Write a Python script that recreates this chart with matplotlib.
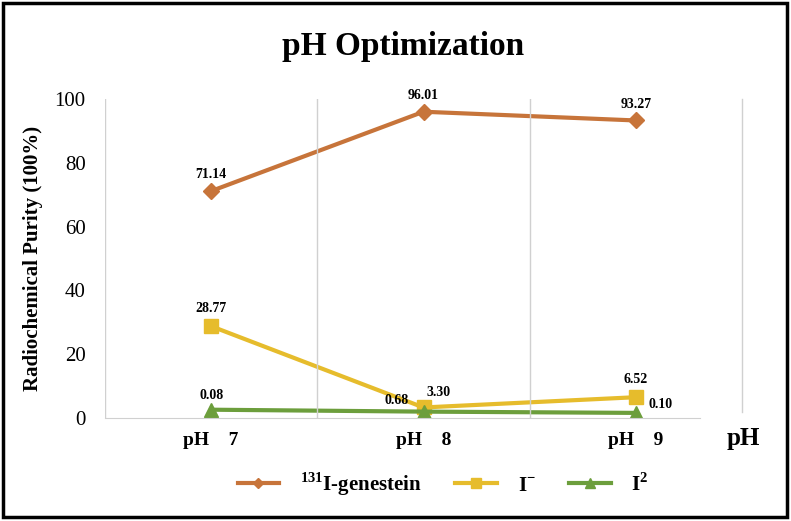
import matplotlib.pyplot as plt
from matplotlib.patches import Rectangle

# data
categories = ['pH    7', 'pH    8', 'pH    9']
genistein = [71.14, 96.01, 93.27]
iodide = [28.77, 3.30, 6.52]
iodine = [2.6, 2.0, 1.6]          # plotted positions
iodine_labels = ['0.08', '0.68', '0.10']

plt.rcParams['font.family'] = ['Liberation Serif', 'DejaVu Serif']
plt.rcParams['mathtext.fontset'] = 'custom'
plt.rcParams['mathtext.rm'] = 'Liberation Serif:bold'
plt.rcParams['mathtext.bf'] = 'Liberation Serif:bold'

c_org = '#C7743A'
c_yel = '#E6BC2C'
c_grn = '#6C9E3C'

fig = plt.figure(figsize=(7.91, 5.21), dpi=100)
ax = fig.add_axes([105/791, 1-418/521, (742-105)/791, (418-99)/521])

x = [0.5, 1.5, 2.5]
ax.plot(x, genistein, color=c_org, lw=3, marker='D', ms=8, label=r'$^{131}$I-genestein')
ax.plot(x, iodide, color=c_yel, lw=3, marker='s', ms=10, label=r'I$^{-}$')
ax.plot(x, iodine, color=c_grn, lw=3, marker='^', ms=10, label=r'I$^{2}$')

lab = dict(fontsize=10, fontweight='bold', ha='center', va='bottom')
for xi, v in zip(x, genistein):
    ax.text(xi, v + 3, f'{v:.2f}', **lab)
ax.text(x[0], iodide[0] + 3.5, f'{iodide[0]:.2f}', **lab)
ax.text(x[1] + 0.07, iodide[1] + 2.5, f'{iodide[1]:.2f}', **lab)
ax.text(x[2], iodide[2] + 3.5, f'{iodide[2]:.2f}', **lab)
ax.text(x[0], iodine[0] + 2.5, iodine_labels[0], **lab)
ax.text(x[1] - 0.07, iodine[1] + 1.5, iodine_labels[1], fontsize=10, fontweight='bold', ha='right', va='bottom')
ax.text(x[2] + 0.06, iodine[2] + 0.5, iodine_labels[2], fontsize=10, fontweight='bold', ha='left', va='bottom')

ax.set_xlim(0, 3)
ax.set_ylim(0, 100)
ax.set_yticks([0, 20, 40, 60, 80, 100])
ax.set_xticks(x)
ax.set_xticklabels(categories, fontsize=14, fontweight='bold')
ax.tick_params(axis='y', labelsize=15, length=0, pad=14)
ax.tick_params(axis='x', length=0, pad=10)
for s in ['top', 'right', 'left']:
    ax.spines[s].set_visible(False)
ax.spines['bottom'].set_color('#D0D0D0')
ax.spines['bottom'].set_bounds(0, 2.8)
for g in [0, 1, 2]:
    ax.axvline(g, color='#D0D0D0', lw=1)
ax.plot([3, 3], [2, 100], color='#D0D0D0', lw=1, clip_on=False)

ax.set_ylabel('Radiochemical Purity (100%)', fontsize=15, fontweight='bold', labelpad=8)
fig.text(743/791, 1-438/521, 'pH', fontsize=18, fontweight='bold', ha='center', va='center')
fig.text(403/791, 1-46/521, 'pH Optimization', fontsize=24, fontweight='bold', ha='center', va='center')

ax.legend(loc='center', bbox_to_anchor=(443/791, 1-484/521), bbox_transform=fig.transFigure,
          ncol=3, frameon=False, handlelength=2.0, handletextpad=1.0, columnspacing=1.6,
          markerscale=0.7, prop={'weight': 'bold', 'size': 15})

fig.patches.append(Rectangle((3/791, 4/521), 784/791, 514/521, transform=fig.transFigure,
                             fill=False, edgecolor='black', lw=2.5))

fig.savefig('out.png', dpi=100)
